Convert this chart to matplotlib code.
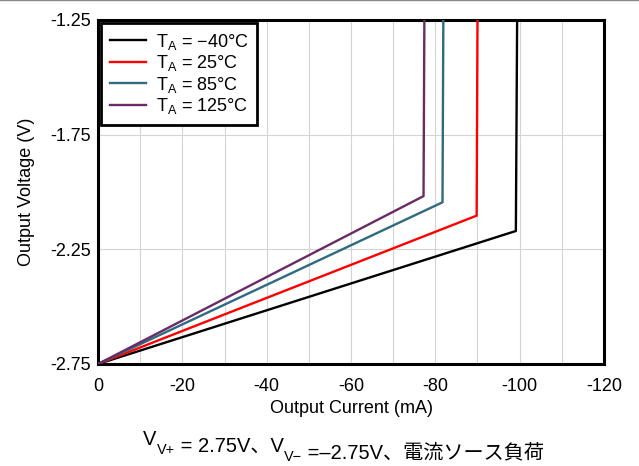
import matplotlib
matplotlib.use("Agg")
import matplotlib.pyplot as plt
from matplotlib.lines import Line2D

plt.rcParams["font.family"] = ["Liberation Sans", "Noto Sans CJK JP", "DejaVu Sans"]
plt.rcParams["mathtext.fontset"] = "custom"
plt.rcParams["mathtext.rm"] = "Liberation Sans"
plt.rcParams["font.size"] = 13

# Daten
temps = ["\u221240", "25", "85", "125"]
colors = ["black", "#ff0000", "#2e6a80", "#6a2a66"]
current = [
    [0, -99.1, -99.4],
    [0, -89.8, -90.0],
    [0, -81.7, -81.9],
    [0, -77.2, -77.4],
]
voltage = [
    [-2.75, -2.17, -1.25],
    [-2.75, -2.103, -1.25],
    [-2.75, -2.045, -1.25],
    [-2.75, -2.018, -1.25],
]
xticks = [0, -20, -40, -60, -80, -100, -120]
yticks = [-2.75, -2.25, -1.75, -1.25]

fig = plt.figure(figsize=(6.39, 4.66), dpi=100)
ax = fig.add_axes([0.1534, 0.2189, 0.7918, 0.7382])

for t, c, x, y in zip(temps, colors, current, voltage):
    ax.plot(x, y, color=c, lw=1.7, label=r"$\mathregular{T_A}$ = " + t + "°C", zorder=3)

ax.set_xlim(0, -120)
ax.set_ylim(-2.75, -1.25)
ax.set_xticks(xticks)
ax.set_xticklabels([str(v) for v in xticks])
ax.set_xticks(range(-10, -120, -20), minor=True)
ax.set_yticks(yticks)
ax.set_yticklabels(["%.2f" % v for v in yticks])
ax.tick_params(which="both", length=0)
ax.tick_params(axis="x", pad=10)
ax.tick_params(axis="y", pad=5)
ax.grid(True, which="both", color="#d4d4d4", lw=0.8, zorder=0)
for s in ax.spines.values():
    s.set_linewidth(2.2)
ax.set_xlabel("Output Current (mA)", labelpad=4)
ax.set_ylabel("Output Voltage (V)", labelpad=11)

leg = ax.legend(loc="upper left", bbox_to_anchor=(0.0, 1.0), fancybox=False,
                edgecolor="black", framealpha=1, handlelength=2.0,
                borderpad=0.5, labelspacing=0.08, handletextpad=0.55,
                borderaxespad=0.15)
leg.get_frame().set_linewidth(2.0)

# Bildunterschrift aus Teilen (Subskripte)
fs = 14.5
t1 = fig.text(0.224, 0.045, "V", fontsize=fs, ha="left", va="baseline")
t2 = ax.annotate("V+", xy=(1, 0), xycoords=t1, xytext=(0, -3.5), textcoords="offset points",
                 fontsize=fs * 0.72, va="baseline", annotation_clip=False)
t3 = ax.annotate(" = 2.75V、V", xy=(1, 0), xycoords=t2, xytext=(0, 3.5), textcoords="offset points",
                 fontsize=fs, va="baseline", annotation_clip=False)
t4 = ax.annotate("V\u2212", xy=(1, 0), xycoords=t3, xytext=(0, -3.5), textcoords="offset points",
                 fontsize=fs * 0.72, va="baseline", annotation_clip=False)
t5 = ax.annotate(" =\u20132.75V、電流ソース負荷", xy=(1, 0), xycoords=t4, xytext=(0, 3.5),
                 textcoords="offset points", fontsize=fs, va="baseline", annotation_clip=False)

fig.add_artist(Line2D([0, 1], [0.999, 0.999], transform=fig.transFigure, color="#888888", lw=1))

fig.savefig("out.png", dpi=100)
